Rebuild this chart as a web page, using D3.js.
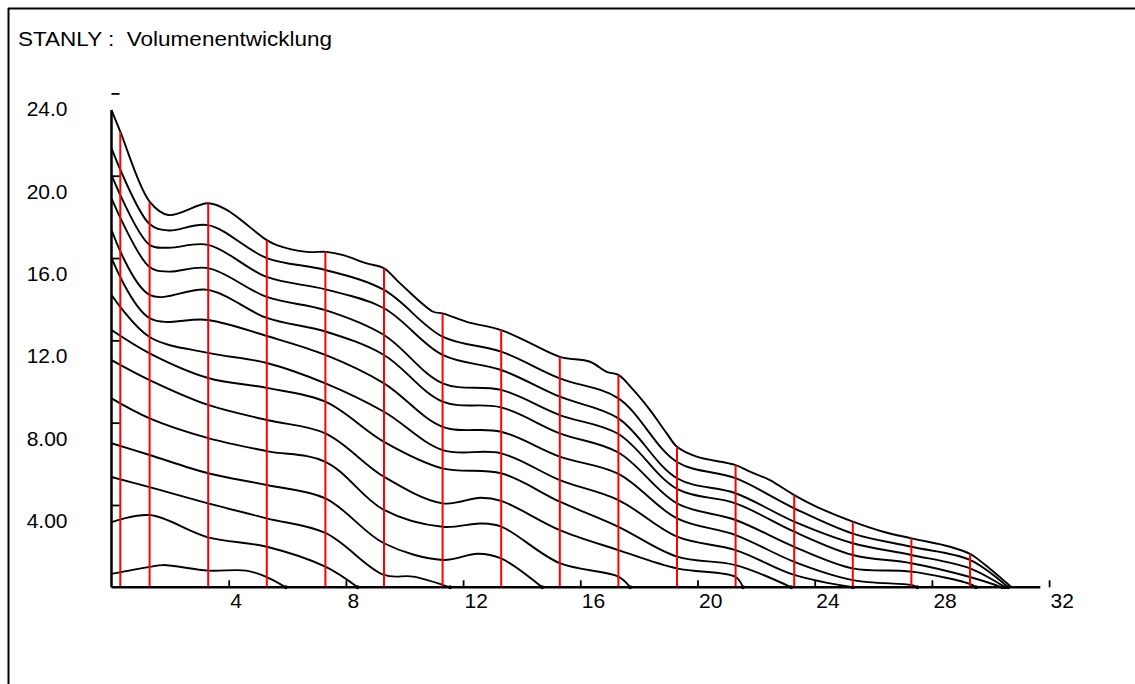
<!DOCTYPE html>
<html>
<head>
<meta charset="utf-8">
<script src="https://cdn.jsdelivr.net/npm/d3@7"></script>
<style>
  html, body { margin: 0; padding: 0; background: #fff; }
  svg { display: block; }
  text { font-family: "Liberation Sans", Arial, sans-serif; font-size: 21px; fill: #000; }
</style>
</head>
<body>
<svg id="chart" width="1135" height="684"></svg>
<script>
// ---- data (x = period, value = volume) ----
const title = "STANLY :  Volumenentwicklung";
const xTicks = [4, 8, 12, 16, 20, 24, 28, 32];
const xTickLabels = ["4", "8", "12", "16", "20", "24", "28", "32"];
const yTicks = [4, 8, 12, 16, 20, 24];
const yTickLabels = ["4.00", "8.00", "12.0", "16.0", "20.0", "24.0"];

const redX   = [0.3, 1.3, 3.3, 5.3, 7.3, 9.3, 11.3, 13.3, 15.3, 17.3, 19.3, 21.3, 23.3, 25.3, 27.3, 29.3];
const redTop = [22.14, 18.74, 18.66, 16.87, 16.30, 15.5, 13.31, 12.50, 11.2, 10.32, 6.83, 5.94, 4.48, 3.19, 2.38, 1.62];

const c01 = [[0,23.19],[0.3,22.14],[1.3,18.74],[1.94,18.09],[3.3,18.66],[3.93,18.34],[5.3,16.87],[5.64,16.63],[6.66,16.30],[7.34,16.30],[7.91,16.14],[8.71,15.74],[9.3,15.5],[9.85,14.77],[10.98,13.39],[11.3,13.31],[12.12,12.9],[13.3,12.50],[14.17,11.95],[15.3,11.2],[16.33,10.96],[16.9,10.47],[17.3,10.32],[17.81,9.59],[18.38,8.61],[18.95,7.48],[19.3,6.83],[19.97,6.35],[21.3,5.94],[21.79,5.62],[22.47,5.21],[23.3,4.48],[24.07,3.91],[25.3,3.19],[26.34,2.70],[27.3,2.38],[28.62,1.97],[29.3,1.62],[29.75,1.17],[30.72,0]];
const c02 = [[0,21.33],[1.3,17.65],[1.94,17.34],[3.3,17.60],[5.3,16.0],[7.3,15.42],[9.3,14.45],[11.3,12.18],[13.3,11.45],[15.3,10.15],[17.3,9.18],[19.3,6.09],[21.3,5.30],[23.3,3.84],[25.3,2.61],[27.3,1.97],[29.3,1.33],[30.6,0]];
const c03 = [[0,20.03],[1.3,16.64],[1.94,16.50],[3.3,16.64],[5.3,15.08],[7.3,14.48],[9.3,13.56],[11.3,11.29],[13.3,10.56],[15.3,9.26],[17.3,8.21],[19.3,5.30],[21.3,4.57],[23.3,3.19],[25.3,2.14],[27.3,1.57],[29.3,0.92],[30.5,0]];
const c04 = [[0,18.90],[1.3,15.56],[1.94,15.34],[3.3,15.51],[5.3,14.11],[7.3,13.47],[9.3,12.26],[11.3,9.91],[13.3,9.59],[15.3,8.37],[17.3,7.45],[19.3,4.78],[21.3,4.08],[23.3,2.70],[25.3,1.57],[27.3,1.17],[29.3,0.50],[30.4,0]];
const c05 = [[0,17.36],[1.3,14.21],[3.3,14.45],[5.3,13.09],[7.3,12.43],[9.3,11.29],[11.3,9.02],[13.3,8.74],[15.3,7.48],[17.3,6.55],[19.3,4.08],[21.3,3.27],[23.3,1.97],[25.3,0.92],[27.3,0.76],[29.3,0.16],[29.5,0]];
const c06 = [[0,15.99],[1.3,13.08],[3.3,12.99],[5.3,12.21],[7.3,11.29],[9.3,9.91],[11.3,7.80],[13.3,7.56],[15.3,6.35],[17.3,5.51],[19.3,3.35],[21.3,2.54],[23.3,1.24],[25.3,0.35],[27.3,0.11],[27.5,0]];
const c07 = [[0,14.20],[1.3,12.16],[3.3,11.39],[5.3,10.90],[7.3,9.91],[9.3,8.53],[11.3,6.67],[13.3,6.51],[15.3,5.21],[17.3,4.24],[19.3,2.46],[21.3,1.81],[23.3,0.60],[25.3,0]];
const c08 = [[0,12.50],[1.3,11.37],[3.3,10.17],[5.3,9.69],[7.3,9.02],[9.3,7.07],[11.3,5.78],[13.3,5.54],[15.3,4.16],[17.3,2.94],[19.3,1.49],[21.3,1.08],[23.2,0]];
const c09 = [[0,11.04],[1.3,10.07],[3.3,8.86],[5.3,8.13],[7.3,7.48],[9.3,5.37],[11.3,4.08],[12.6,4.35],[13.3,4.20],[15.3,2.78],[17.3,1.81],[19.3,0.92],[21.3,0.50],[21.55,0]];
const c10 = [[0,9.18],[1.3,8.21],[3.3,7.25],[5.3,6.62],[7.3,6.10],[9.3,3.76],[11.3,2.94],[12.6,3.10],[13.3,2.95],[15.3,1.17],[17.3,0.52],[17.7,0]];
const c11 = [[0,7.00],[1.3,6.43],[3.3,5.54],[5.3,4.97],[7.3,4.32],[9.3,2.14],[11.3,1.33],[12.5,1.63],[13.3,1.40],[14.7,0]];
const c12 = [[0,5.36],[1.3,4.87],[3.3,4.08],[5.3,3.35],[7.3,2.64],[9.3,0.60],[10.3,0.52],[11.55,0]];
const c13 = [[0,3.17],[1.3,3.51],[3.3,2.43],[5.3,1.97],[7.3,1.00],[8.4,0]];
const c14 = [[0,0.65],[1.3,0.99],[1.76,1.08],[3.3,0.81],[4.6,0.81],[5.3,0.50],[5.95,0]];
const series = [c01, c02, c03, c04, c05, c06, c07, c08, c09, c10, c11, c12, c13, c14];

// ---- drawing ----
const svg = d3.select("#chart");
const x = d3.scaleLinear().domain([0, 32]).range([111.5, 1049.1]);
const y = d3.scaleLinear().domain([0, 24]).range([587.3, 93.4]);

// frame
svg.append("line").attr("x1", 8).attr("x2", 1135).attr("y1", 8.5).attr("y2", 8.5)
   .attr("stroke", "#000").attr("stroke-width", 2);
svg.append("line").attr("x1", 8.5).attr("x2", 8.5).attr("y1", 8).attr("y2", 684)
   .attr("stroke", "#000").attr("stroke-width", 2);

// title
svg.append("text").attr("x", 18).attr("y", 46)
   .attr("textLength", 314).attr("lengthAdjust", "spacingAndGlyphs")
   .style("white-space", "pre").text(title);

// curves
const line = d3.line().x(d => x(d[0])).y(d => y(d[1])).curve(d3.curveCatmullRom.alpha(0.5));
svg.append("g").selectAll("path").data(series).join("path")
   .attr("d", line).attr("fill", "none").attr("stroke", "#000").attr("stroke-width", 1.9);

// end dots where curves reach the axis
svg.append("g").selectAll("circle").data(series.slice(1)).join("circle")
   .attr("cx", d => x(d[d.length - 1][0])).attr("cy", y(0)).attr("r", 2).attr("fill", "#000");

// red verticals
svg.append("g").selectAll("line").data(redX).join("line")
   .attr("x1", d => x(d)).attr("x2", d => x(d))
   .attr("y1", y(0)).attr("y2", (d, i) => y(redTop[i]))
   .attr("stroke", "#ff0000").attr("stroke-width", 2);

// x axis
const xAxis = d3.axisBottom(x).tickValues(xTicks).tickSize(-7)
  .tickFormat((d, i) => xTickLabels[i]);
const gx = svg.append("g").attr("transform", `translate(0,${y(0)})`).call(xAxis);
gx.select(".domain").remove();
gx.selectAll(".tick line").attr("stroke", "#000").attr("stroke-width", 1.8);
gx.selectAll(".tick text").attr("text-anchor", "start").attr("x", 1).attr("y", 21).attr("dy", 0)
  .style("font-family", "'Liberation Sans', Arial, sans-serif").style("font-size", "21px");
svg.append("line").attr("x1", x(0)).attr("x2", x(31.7)).attr("y1", y(0)).attr("y2", y(0))
   .attr("stroke", "#000").attr("stroke-width", 2.5);

// y axis
const yAxis = d3.axisLeft(y).tickValues(yTicks).tickSize(-8)
  .tickFormat((d, i) => yTickLabels[i]);
const gy = svg.append("g").attr("transform", `translate(${x(0)},0)`).call(yAxis);
gy.select(".domain").remove();
gy.selectAll(".tick line").attr("stroke", "#000").attr("stroke-width", 1.8);
gy.selectAll(".tick text").attr("text-anchor", "end").attr("x", -44).attr("y", 22.5).attr("dy", 0)
  .style("font-family", "'Liberation Sans', Arial, sans-serif").style("font-size", "21px");
svg.append("line").attr("x1", x(0)).attr("x2", x(0)).attr("y1", y(0)).attr("y2", y(c01[0][1]))
   .attr("stroke", "#000").attr("stroke-width", 2.5);
</script>
</body>
</html>
